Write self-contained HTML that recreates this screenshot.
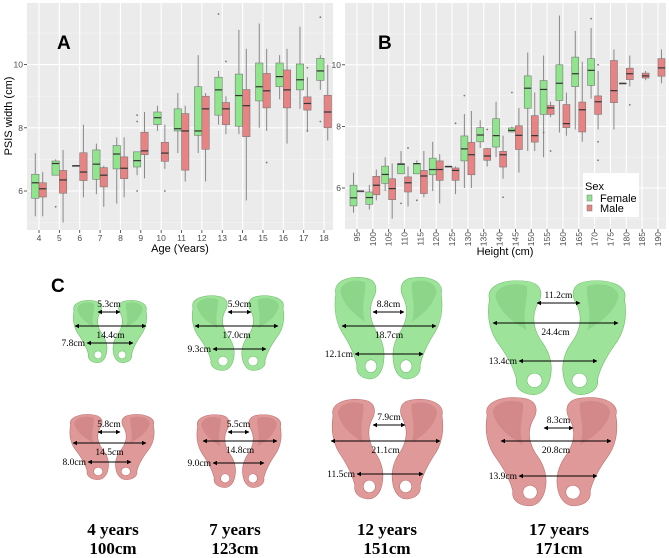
<!DOCTYPE html>
<html><head><meta charset="utf-8"><style>
body{margin:0;background:#fff;width:669px;height:558px;overflow:hidden}
svg{display:block}
.tk{font-family:"Liberation Sans",sans-serif;font-size:8.5px;fill:#4d4d4d}
.ax{font-family:"Liberation Sans",sans-serif;font-size:11px;fill:#000}
.ms{font-family:"Liberation Serif",serif;font-size:9.5px;fill:#000}
.cap{font-family:"Liberation Serif",serif;font-size:17px;font-weight:bold;fill:#000}
</style></head><body>
<svg id="fig" width="669" height="558" viewBox="0 0 669 558">
<defs>
<marker id="ar" viewBox="0 0 10 10" refX="9" refY="5" markerWidth="5" markerHeight="5" orient="auto-start-reverse"><path d="M0,0L10,5L0,10z" fill="#000"/></marker>
</defs>
<g id="pA"></g>
<g id="pB"></g>
<g id="pC"></g>
</svg>
<script>
// ---------- Panel A data (age) ----------
const ageCats = [4,5,6,7,8,9,10,11,12,13,14,15,16,17,18];
const ageFemale = [
[5.2,5.77,6.26,6.53,7.2],[6.5,6.5,6.87,6.95,7.0],[6.8,6.8,6.8,6.8,6.8],[5.9,6.37,6.85,7.3,7.5],
[5.6,6.7,7.17,7.44,7.7],[6.5,6.76,6.96,7.24,7.25],[7.9,8.1,8.32,8.5,8.7],[7.2,7.9,7.97,8.6,9.1],
[7.2,7.76,7.9,9.3,10.3],[8.1,8.4,9.2,9.6,9.8],[7.8,8.05,9.02,9.7,11.1],[8.0,8.85,9.3,10.05,11.3],
[8.9,9.3,9.62,10.05,10.3],[8.6,9.2,9.52,10.02,11.2],[9.2,9.5,9.8,10.2,10.3]];
const ageMale = [
[5.2,5.81,6.07,6.26,6.6],[5.0,5.93,6.35,6.65,7.3],[5.8,6.33,6.6,7.21,8.1],[5.5,6.13,6.5,6.74,6.8],
[5.8,6.39,6.72,7.08,7.7],[6.4,7.15,7.27,7.86,8.5],[6.7,6.94,7.2,7.54,8.1],[6.3,6.66,7.9,8.45,8.7],
[6.3,7.32,8.6,9.0,9.1],[7.8,8.1,8.6,8.8,9.0],[5.7,7.72,8.7,9.21,10.5],[7.9,8.63,9.17,9.72,10.5],
[7.5,8.63,9.2,9.83,10.5],[7.9,8.56,8.77,8.98,9.6],[7.6,8.0,8.5,9.03,10.0]];
const ageFemaleOut = [[5,5.5],[9,8.4],[9,8.2],[9,6.0],[13,11.6],[18,11.5],[18,8.2]];
const ageMaleOut = [[10,6.0],[13,10.1],[15,6.9],[17,9.9],[17,7.9]];
// ---------- Panel B data (height) ----------
const hCats = [95,100,105,110,115,120,125,130,135,140,145,150,155,160,165,170,175,180,185,190];
const hFemale = [
[5.2,5.42,5.68,6.09,6.5],[5.3,5.47,5.69,5.87,6.1],[5.9,6.15,6.44,6.71,7.0],[6.46,6.46,6.77,6.8,7.2],
[6.46,6.46,6.79,6.8,6.9],[5.9,6.43,6.6,6.97,7.5],[6.7,6.7,6.7,6.7,6.7],[6.0,6.88,7.27,7.69,8.4],
[7.3,7.5,7.72,7.96,8.2],[7.0,7.33,7.7,8.25,8.8],[7.8,7.82,7.87,7.95,8.0],[7.2,8.59,9.24,9.64,10.4],
[7.0,8.39,9.2,9.49,10.3],[7.8,8.84,9.4,10.0,11.6],[7.9,9.29,9.71,10.25,11.1],[8.9,9.33,9.82,10.2,11.2],
null,[9.4,9.4,9.4,9.4,9.4],null,null];
const hMale = [
[5.9,5.9,5.9,5.9,5.9],[5.6,5.78,6.09,6.38,6.6],[5.0,5.62,5.98,6.3,6.8],[5.4,5.87,6.17,6.36,6.7],
[5.7,5.82,6.39,6.57,7.2],[5.5,6.25,6.6,6.88,7.1],[5.8,6.25,6.57,6.65,6.7],[6.0,6.43,7.08,7.48,8.5],
[6.7,6.9,7.04,7.28,7.3],[6.3,6.68,7.08,7.19,7.7],[6.5,7.25,7.71,8.02,8.6],[7.2,7.49,7.7,8.35,9.1],
[8.3,8.39,8.6,8.68,8.8],[7.7,7.96,8.09,8.71,9.1],[7.5,7.82,8.54,8.79,10.1],[7.9,8.39,8.8,8.99,9.8],
[7.9,8.77,9.16,10.14,10.5],[9.3,9.52,9.71,9.89,10.3],[9.5,9.57,9.64,9.73,9.8],[9.4,9.63,9.9,10.2,10.5]];
const hFemaleOut = [[110,5.5],[115,5.6],[130,9.0],[145,9.1],[155,7.8],[170,11.5]];
const hMaleOut = [[110,7.3],[125,8.1],[135,7.9],[140,5.7],[155,7.2],[170,10.0],[170,7.5],[170,6.9],[180,8.7]];
const yTicks = [6,8,10];

const NS="http://www.w3.org/2000/svg";
function mk(tag,attrs,parent){const e=document.createElementNS(NS,tag);for(const k in attrs)e.setAttribute(k,attrs[k]);parent.appendChild(e);return e;}
const GREEN="#8fe58c", RED="#e88384";

function drawPanel(g,cfg){
  const {x0,x1,y0,y1,cats,fem,mal,fo,mo,catX,yv,bw}=cfg;
  const bg=mk('rect',{x:x0,y:y0,width:x1-x0,height:y1-y0,fill:'#ebebeb'},g);
  
  
  [5,7,9,11].forEach(v=>{mk('line',{x1:x0,x2:x1,y1:yv(v),y2:yv(v),stroke:'#f5f5f5','stroke-width':0.6},g);});
  yTicks.forEach(v=>{
    const l=mk('line',{x1:x0,x2:x1,y1:yv(v),y2:yv(v),stroke:'#fff','stroke-width':1.1},g);
    
    
    mk('line',{x1:x0-3,x2:x0,y1:yv(v),y2:yv(v),stroke:'#333','stroke-width':0.8},g);
  });
  cats.forEach((c,i)=>{
    const l=mk('line',{x1:catX(i),x2:catX(i),y1:y0,y2:y1,stroke:'#fff','stroke-width':1.1},g);
    
    
    mk('line',{x1:catX(i),x2:catX(i),y1:y1,y2:y1+3,stroke:'#333','stroke-width':0.8},g);
  });
  function box(st,cx,color,name){
    if(!st)return;
    const bg2=mk('g',{},g);
    
    
    mk('line',{x1:cx,x2:cx,y1:yv(st[0]),y2:yv(st[4]),stroke:'#888','stroke-width':1},bg2);
    mk('rect',{x:cx-bw/2,y:yv(st[3]),width:bw,height:Math.max(0.8,yv(st[1])-yv(st[3])),fill:color,stroke:'#777','stroke-width':0.6},bg2);
    mk('line',{x1:cx-bw/2,x2:cx+bw/2,y1:yv(st[2]),y2:yv(st[2]),stroke:'#333','stroke-width':1.2},bg2);
  }
  cats.forEach((c,i)=>{
    box(fem[i],catX(i)-bw/2,GREEN,'box-female-'+c);
    box(mal[i],catX(i)+bw/2,RED,'box-male-'+c);
  });
  fo.forEach(p=>{const i=cats.indexOf(p[0]);const d=mk('circle',{cx:catX(i)-bw/2,cy:yv(p[1]),r:0.9,fill:'#777'},g);});
  mo.forEach(p=>{const i=cats.indexOf(p[0]);const d=mk('circle',{cx:catX(i)+bw/2,cy:yv(p[1]),r:0.9,fill:'#777'},g);});
}
// Panel A
const gA=document.getElementById('pA');
const yA=v=>191-(v-6)*31.6;
drawPanel(gA,{x0:27,x1:333,y0:3,y1:230,cats:ageCats,fem:ageFemale,mal:ageMale,fo:ageFemaleOut,mo:ageMaleOut,
  catX:i=>39+i*20.36,yv:yA,bw:7.4});
yTicks.forEach(v=>{const t=mk('text',{x:23,y:yA(v)+3,'text-anchor':'end',class:'tk'},gA);t.textContent=v;});
ageCats.forEach((c,i)=>{const t=mk('text',{x:39+i*20.36,y:241,'text-anchor':'middle',class:'tk'},gA);t.textContent=c;});
let t=mk('text',{x:180,y:252,'text-anchor':'middle',class:'ax'},gA);t.textContent='Age (Years)';
t=mk('text',{x:0,y:0,'text-anchor':'middle',class:'ax',transform:'translate(12,116) rotate(-90)'},gA);t.textContent='PSIS width (cm)';
t=mk('text',{x:57,y:49,'font-family':'Liberation Sans','font-weight':'bold','font-size':'19'},gA);t.textContent='A';
// Panel B
const gB=document.getElementById('pB');
const yB=v=>188-(v-6)*30.8;
drawPanel(gB,{x0:345,x1:666,y0:3,y1:229,cats:hCats,fem:hFemale,mal:hMale,fo:hFemaleOut,mo:hMaleOut,
  catX:i=>357+i*15.84,yv:yB,bw:7});
yTicks.forEach(v=>{const t=mk('text',{x:341,y:yB(v)+3,'text-anchor':'end',class:'tk'},gB);t.textContent=v;});
hCats.forEach((c,i)=>{const x=357+i*15.84+3;const t=mk('text',{x:0,y:0,'text-anchor':'end',class:'tk',transform:`translate(${x},232) rotate(-90)`},gB);t.textContent=c;});
t=mk('text',{x:505,y:255,'text-anchor':'middle',class:'ax'},gB);t.textContent='Height (cm)';
t=mk('text',{x:378,y:49,'font-family':'Liberation Sans','font-weight':'bold','font-size':'19'},gB);t.textContent='B';
// legend
const lg=mk('g',{},gB);


mk('rect',{x:583,y:173,width:56,height:44,fill:'#fff'},lg);
t=mk('text',{x:585,y:190,class:'ax','font-size':'11.5'},lg);t.textContent='Sex';
[[GREEN,'Female',202],[RED,'Male',212]].forEach(([c,n,y])=>{
  const e=mk('g',{},lg);
  
  
  mk('rect',{x:587,y:y-7,width:5,height:6,fill:c,stroke:'#777','stroke-width':0.5},e);
  const tt=mk('text',{x:600,y:y,class:'ax','font-size':'10'},e);tt.textContent=n;
});

// ---------- Panel C: pelvis models ----------
const gC=document.getElementById('pC');
t=mk('text',{x:51,y:292,'font-family':'Liberation Sans','font-weight':'bold','font-size':'19'},gC);t.textContent='C';
const half="M5,18 C2,5 18,0 31,3 C40,5 41,14 37,22 C33,32 34,42 39,52 C44,60 47,70 46,80 C45,92 40,99 33,98 C26,97 22,92 23,85 C21,75 17,66 12,57 C5,46 3,32 5,18 Z";
const shade="M9,16 C9,6 22,3 30,7 C31,18 26,30 30,44 C22,38 12,30 9,16 Z";
const pelvises=[
 {n:'female-4y',c:'#9ee39a',d:'#6dbd69',b:[70,299,150,364],top:[98,120,312,'5.3cm'],mid:[75,146,326,'14.4cm'],low:[87,133,343,'7.8cm']},
 {n:'female-7y',c:'#9ee39a',d:'#6dbd69',b:[188,294,288,372],top:[228,251,312,'5.9cm'],mid:[195,278,326,'17.0cm'],low:[213,266,349,'9.3cm']},
 {n:'female-12y',c:'#9ee39a',d:'#6dbd69',b:[330,275,447,381],top:[373,404,312,'8.8cm'],mid:[342,436,326,'18.7cm'],low:[355,423,354,'12.1cm']},
 {n:'female-17y',c:'#9ee39a',d:'#6dbd69',b:[482,278,632,397],top:[537,580,303,'11.2cm'],mid:[493,618,323,'24.4cm'],low:[519,597,361,'13.4cm']},
 {n:'male-4y',c:'#df9999',d:'#bd6e6e',b:[66,413,158,481],top:[98,120,432,'5.8cm'],mid:[73,146,443,'14.5cm'],low:[88,131,462,'8.0cm']},
 {n:'male-7y',c:'#df9999',d:'#bd6e6e',b:[193,413,285,489],top:[228,249,432,'5.5cm'],mid:[203,277,441,'14.8cm'],low:[213,264,463,'9.0cm']},
 {n:'male-12y',c:'#df9999',d:'#bd6e6e',b:[327,397,448,501],top:[373,405,425,'7.9cm'],mid:[331,440,441,'21.1cm'],low:[357,423,474,'11.5cm']},
 {n:'male-17y',c:'#df9999',d:'#bd6e6e',b:[480,395,623,508],top:[544,573,428,'8.3cm'],mid:[501,611,441,'20.8cm'],low:[519,597,476,'13.9cm']}
];
pelvises.forEach(p=>{
  const g=mk('g',{},gC);
  
  
  const [x0,y0,x1,y1]=p.b, w=x1-x0, h=y1-y0, sx=w/100, sy=h/100;
  [0,1].forEach(side=>{
    const tr=side===0?`translate(${x0},${y0}) scale(${sx},${sy})`:`translate(${x1},${y0}) scale(${-sx},${sy})`;
    const hg=mk('g',{transform:tr},g);
    mk('path',{d:half,fill:p.c,stroke:p.d,'stroke-width':0.6/sx},hg);
    mk('path',{d:shade,fill:p.d,opacity:0.35},hg);
    mk('ellipse',{cx:35,cy:86,rx:5,ry:6,fill:'#fff',stroke:p.d,'stroke-width':0.6/sx},hg);
  });
  [p.top,p.mid,p.low].forEach(m=>{
    mk('line',{x1:m[0],x2:m[1],y1:m[2],y2:m[2],stroke:'#000','stroke-width':0.9,'marker-start':'url(#ar)','marker-end':'url(#ar)'},g);
  });
  const cx=(p.mid[0]+p.mid[1])/2;
  let a=mk('text',{x:(p.top[0]+p.top[1])/2,y:p.top[2]-5,'text-anchor':'middle',class:'ms'},g);a.textContent=p.top[3];
  
  a=mk('text',{x:cx,y:p.mid[2]+12,'text-anchor':'middle',class:'ms'},g);a.textContent=p.mid[3];
  
  a=mk('text',{x:p.low[0]-2,y:p.low[2]+3,'text-anchor':'end',class:'ms'},g);a.textContent=p.low[3];
  
});
[[113,'4 years','100cm'],[235,'7 years','123cm'],[387,'12 years','151cm'],[559,'17 years','171cm']].forEach(([x,a,b])=>{
  const g=mk('g',{},gC);
  
  
  let e=mk('text',{x:x,y:535,'text-anchor':'middle',class:'cap'},g);e.textContent=a;
  e=mk('text',{x:x,y:554,'text-anchor':'middle',class:'cap'},g);e.textContent=b;
});
</script>
</body></html>
